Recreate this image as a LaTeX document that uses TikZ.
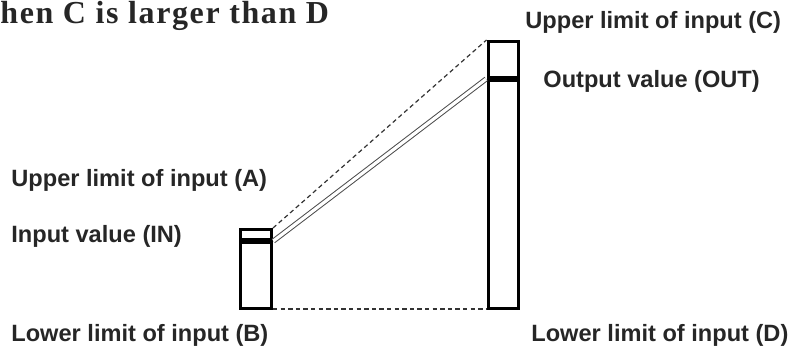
\documentclass[tikz,border=0pt]{standalone}
\usepackage{fontspec}
\setmainfont{Liberation Sans}
\newfontfamily\titlefont{Liberation Serif}
\tikzset{
  bar/.style={draw=black, line width=1.5pt, fill=white, inner sep=0pt},
  level/.style={fill=black, inner sep=0pt, minimum height=3pt},
  limit/.style={draw=black!80, line width=0.6pt, dash pattern=on 2.2pt off 1.6pt},
  label/.style={anchor=base west, inner sep=0pt, font=\fontsize{11.8}{14}\selectfont\bfseries, text=black!85}
}
\begin{document}
\begin{tikzpicture}[x=0.5pt, y=-0.5pt]
    \useasboundingbox (0,0) rectangle (803,352);

    % Title (cut at the left edge)
    \node[anchor=base west, inner sep=0pt, text=black!85,
          font=\titlefont\fontsize{16}{18}\selectfont\bfseries\addfontfeature{LetterSpace=5}]
          (title) at (0,23.5) {hen C is larger than D};

    % Input bar and output bar
    \node[bar, minimum width=15.5pt, minimum height=39.5pt] (inbar) at (256,269) {};
    \node[bar, minimum width=15pt, minimum height=133.5pt] (outbar) at (503,175) {};

    % Present values in the bars
    \node[level, minimum width=17pt] (inlevel) at (256,241) {};
    \node[level, minimum width=16.5pt] (outlevel) at (503,79) {};

    % Upper and lower limits joined by dashed lines
    \draw[limit] (inbar.north east) -- (outbar.north west);
    \draw[limit] ([yshift=0.5pt]inbar.south east) -- ([yshift=0.5pt]outbar.south west);

    % Input value carried over to the output value
    \draw[double=white, draw=black!70, line width=0.5pt, double distance=1.6pt]
      (inlevel.east) -- (outlevel.west);

    % Labels
    \node[label] (uppc) at (525,29) {Upper limit of input (C)};
    \node[label] (outval) at (543,88) {Output value (OUT)};
    \node[label] (uppa) at (11,187) {Upper limit of input (A)};
    \node[label] (inval) at (11,243) {Input value (IN)};
    \node[label] (lowb) at (11,342) {Lower limit of input (B)};
    \node[label] (lowd) at (531,342) {Lower limit of input (D)};
\end{tikzpicture}
\end{document}
